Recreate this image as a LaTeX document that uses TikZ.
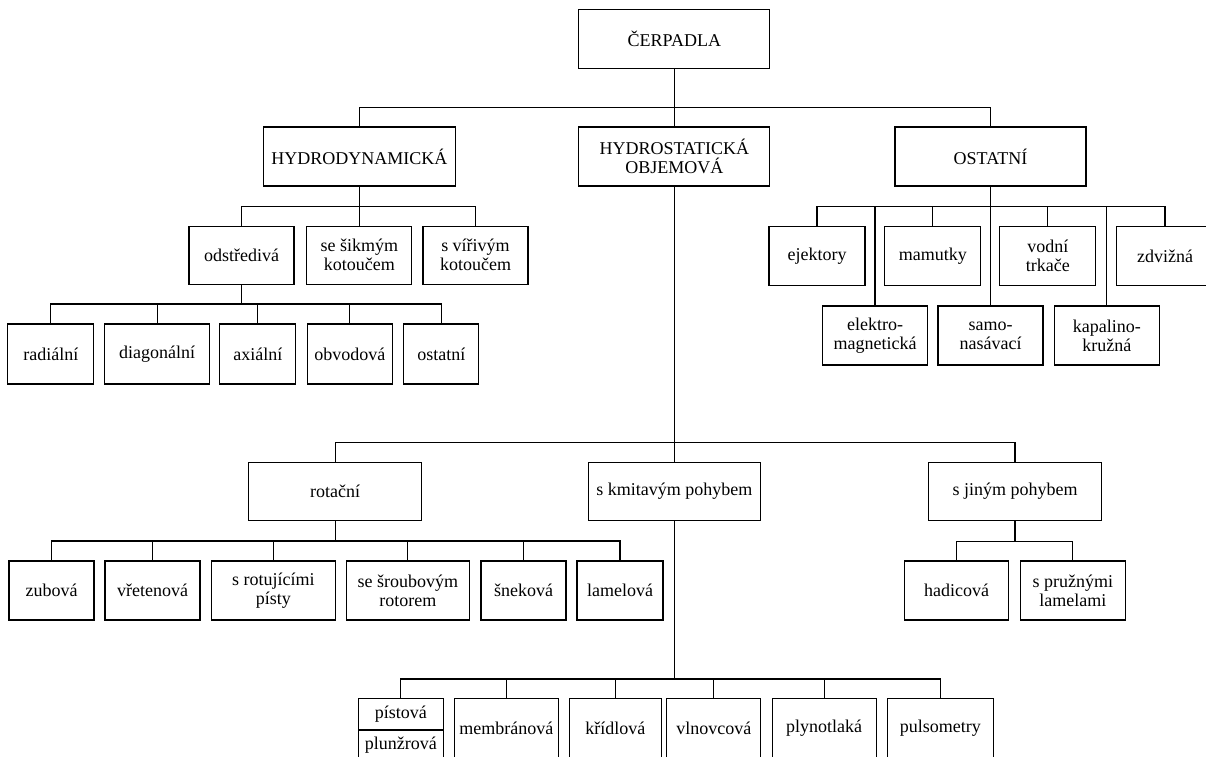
\documentclass[tikz,border=0pt]{standalone}
\usepackage{fontspec}
\setmainfont{Liberation Serif}
\usepackage{tikz}
\newcommand\boxfont{\fontsize{18}{19}\selectfont}
\tikzset{
  box/.style={draw, line width=1.1pt, inner sep=0pt, align=center, font=\boxfont},
  wh/.style 2 args={minimum width=#1pt, minimum height=#2pt},
  link/.style={draw, line width=1.1pt},
}

\begin{document}
\begin{tikzpicture}[x=1pt,y=-1pt]
  \useasboundingbox (0,0) rectangle (1206,756);
  % top levels
  \node[box,wh={191}{59}] (cerp) at (674.3,38.8) {ČERPADLA};
  \node[box,wh={192}{59}] (hdyn) at (359.4,156.5) {HYDRODYNAMICKÁ};
  \node[box,wh={191}{59}] (hstat) at (674.3,156.5) {HYDROSTATICKÁ\\OBJEMOVÁ};
  \node[box,wh={191}{59}] (ostat) at (990.5,156.5) {OSTATNÍ};
  % hydrodynamicka
  \node[box,wh={105}{58}] (odst) at (241.5,255.2) {odstředivá};
  \node[box,wh={105}{58}] (sik) at (359.4,255.2) {se šikmým\\kotoučem};
  \node[box,wh={105}{58}] (vir) at (475.5,255.2) {s vířivým\\kotoučem};
  \node[box,wh={86}{60}] (radi) at (50.8,354) {radiální};
  \node[box,wh={105}{60}] (diag) at (157.1,354) {diagonální};
  \node[box,wh={76}{60}] (axi) at (257.9,354) {axiální};
  \node[box,wh={85}{60}] (obvo) at (349.8,354) {obvodová};
  \node[box,wh={75}{60}] (osta) at (441.4,354) {ostatní};
  % ostatni
  \node[box,wh={96}{59}] (ejek) at (817,256.3) {ejektory};
  \node[box,wh={96}{59}] (mamu) at (932.8,256.3) {mamutky};
  \node[box,wh={96}{59}] (vodn) at (1047.9,256.3) {vodní\\trkače};
  \node[box,wh={97}{59}] (zdvi) at (1165,256.3) {zdvižná};
  \node[box,wh={105}{59}] (elek) at (875,335.5) {elektro-\\magnetická};
  \node[box,wh={105}{59}] (samo) at (990.5,335.5) {samo-\\nasávací};
  \node[box,wh={105}{59}] (kapa) at (1106.9,335.5) {kapalino-\\kružná};
  % hydrostaticka
  \node[box,wh={173}{58}] (rota) at (335.1,491.5) {rotační};
  \node[box,wh={172}{58}] (kmit) at (674.3,491.5) {s kmitavým pohybem};
  \node[box,wh={173}{58}] (jiny) at (1015,491.5) {s jiným pohybem};
  \node[box,wh={85}{59}] (zubo) at (51.5,590.5) {zubová};
  \node[box,wh={95}{59}] (vret) at (152.5,590.5) {vřetenová};
  \node[box,wh={124}{59}] (rotu) at (273.3,590.5) {s rotujícími\\písty};
  \node[box,wh={123}{59}] (srou) at (407.8,590.5) {se šroubovým\\rotorem};
  \node[box,wh={85}{59}] (snek) at (523.5,590.5) {šneková};
  \node[box,wh={86}{59}] (lame) at (620,590.5) {lamelová};
  \node[box,wh={104}{59}] (hadi) at (956.7,590.5) {hadicová};
  \node[box,wh={105}{59}] (pruz) at (1072.9,590.5) {s pružnými\\lamelami};
  \node[box,wh={85}{31.7}] (pist) at (400.8,714.2) {pístová};
  \node[box,wh={85}{30}] (plun) at (400.8,745) {plunžrová};
  \node[box,wh={104}{60}] (memb) at (506.3,728.3) {membránová};
  \node[box,wh={92}{60}] (krid) at (615.3,728.3) {křídlová};
  \node[box,wh={94}{60}] (vlno) at (713.8,728.3) {vlnovcová};
  \node[box,wh={104}{60}] (plyn) at (824.1,728.3) {plynotlaká};
  \node[box,wh={106}{60}] (puls) at (940.3,728.3) {pulsometry};
  % buses
  \coordinate (b0) at (674.3,107.3);
  \coordinate (b1) at (359.4,206.3);
  \coordinate (b2) at (241.5,304);
  \coordinate (b3) at (990.5,206.5);
  \coordinate (b4) at (674.3,442.7);
  \coordinate (b5) at (335.1,541);
  \coordinate (b6) at (1015,541.5);
  \coordinate (b7) at (674.3,679);
  % connectors
  \draw[link] (cerp) -- (hstat);
  \draw[link] (hdyn.north) |- (b0) -| (ostat.north);
  \draw[link] (hdyn) -- (sik);
  \draw[link] (odst.north) |- (b1) -| (vir.north);
  \draw[link] (odst.south) -- (b2);
  \draw[link] (radi.north) |- (b2) -| (osta.north);
  \foreach \n in {diag,axi,obvo}
    \draw[link] (\n.north) -- (\n.north |- b2);
  \draw[link] (ostat) -- (samo);
  \draw[link] (ejek.north) |- (b3) -| (zdvi.north);
  \foreach \n in {mamu,vodn,elek,kapa}
    \draw[link] (\n.north) -- (\n.north |- b3);
  \draw[link] (hstat) -- (kmit);
  \draw[link] (rota.north) |- (b4) -| (jiny.north);
  \draw[link] (rota.south) -- (b5);
  \draw[link] (zubo.north) |- (b5) -| (lame.north);
  \foreach \n in {vret,rotu,srou,snek}
    \draw[link] (\n.north) -- (\n.north |- b5);
  \draw[link] (jiny.south) -- (b6);
  \draw[link] (hadi.north) |- (b6) -| (pruz.north);
  \draw[link] (kmit.south) -- (b7);
  \draw[link] (pist.north) |- (b7) -| (puls.north);
  \foreach \n in {memb,krid,vlno,plyn}
    \draw[link] (\n.north) -- (\n.north |- b7);
\end{tikzpicture}
\end{document}
